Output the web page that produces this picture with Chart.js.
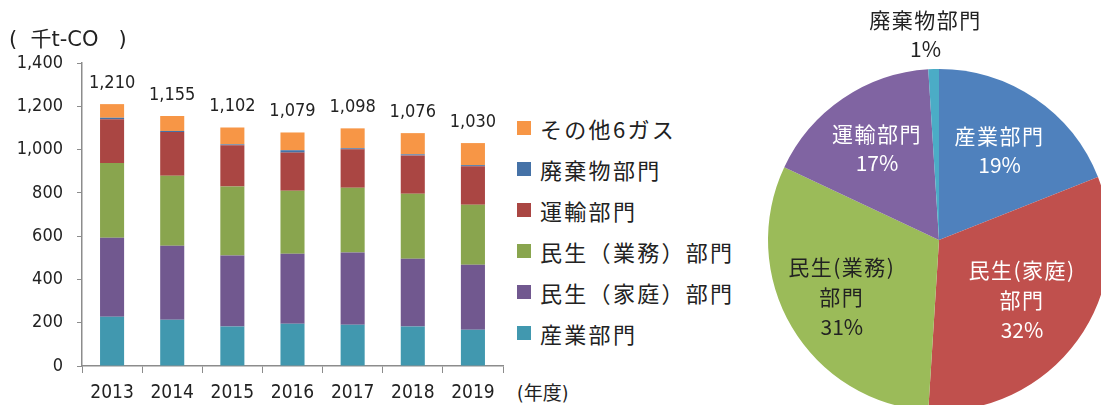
<!DOCTYPE html>
<html>
<head>
<meta charset="utf-8">
<script src="https://cdn.jsdelivr.net/npm/chart.js@4.4.1/dist/chart.umd.min.js"></script>
<style>
html, body { margin:0; padding:0; background:#fff; overflow:hidden; }
#wrap { position:relative; width:1101px; height:405px; overflow:hidden; font-family:"Noto Sans CJK JP", sans-serif; color:#222; }
#barCanvas { position:absolute; left:0; top:0; }
#pieCanvas { position:absolute; left:739px; top:0; }
.unit { position:absolute; left:9px; top:22px; font-size:21px; white-space:pre; font-family:"DejaVu Sans", sans-serif; }
.unit .k { font-family:"Noto Sans CJK JP", sans-serif; }
.nendo { position:absolute; left:517px; top:378px; font-size:19px; font-family:"DejaVu Sans Condensed", "DejaVu Sans", sans-serif; }
.nendo .k { font-family:"Noto Sans CJK JP", sans-serif; }
#legend .item { position:absolute; left:517px; height:24px; display:flex; align-items:center; white-space:nowrap; font-size:22px; letter-spacing:2.3px; }
#legend .sw { width:14px; height:14px; margin-right:9px; }
</style>
</head>
<body>
<div id="wrap">
  <canvas id="barCanvas" width="512" height="405"></canvas>
  <canvas id="pieCanvas" width="400" height="480"></canvas>
  <div class="unit">(  <span class="k">千</span>t-CO   )</div>
  <div class="nendo">(<span class="k">年度</span>)</div>
  <div id="legend"></div>
</div>
<script>
// 年度
const years = ['2013', '2014', '2015', '2016', '2017', '2018', '2019'];

// 部門別排出量（千t-CO2）
const sangyo = [228, 214, 182, 195, 191, 182, 168];
const katei  = [365, 342, 328, 324, 333, 314, 300];
const gyomu  = [345, 323, 319, 291, 300, 300, 277];
const unyu   = [202, 202, 191, 176, 177, 177, 178];
const haiki  = [7, 5, 4, 11, 5, 5, 5];
const sonota = [63, 69, 78, 82, 92, 98, 102];
const totals = [1210, 1155, 1102, 1079, 1098, 1076, 1030];

const yTicks = [0, 200, 400, 600, 800, 1000, 1200, 1400];

// 2019年度 構成比
const pieLabels = ['産業部門', '民生（家庭）部門', '民生（業務）部門', '運輸部門', '廃棄物部門'];
const pieShares = [19, 32, 31, 17, 1];
const pieLines  = [['産業部門'], ['民生(家庭)', '部門'], ['民生(業務)', '部門'], ['運輸部門'], ['廃棄物部門']];

const seriesDefs = [
  { label: '産業部門',         data: sangyo, color: '#4198AF' },
  { label: '民生（家庭）部門', data: katei,  color: '#71588F' },
  { label: '民生（業務）部門', data: gyomu,  color: '#89A54E' },
  { label: '運輸部門',         data: unyu,   color: '#AA4643' },
  { label: '廃棄物部門',       data: haiki,  color: '#4572A7' },
  { label: 'その他6ガス',      data: sonota, color: '#F79646' }
];

const numFamily = '"DejaVu Sans Condensed", "DejaVu Sans", sans-serif';
const fmt = v => Number(v).toLocaleString('en-US');

// 棒の上に合計値
const totalLabels = {
  id: 'totalLabels',
  afterDatasetsDraw(chart) {
    const { ctx, scales: { x, y } } = chart;
    ctx.save();
    ctx.font = '18px ' + numFamily;
    ctx.fillStyle = '#222';
    ctx.textAlign = 'center';
    ctx.textBaseline = 'middle';
    totals.forEach((t, i) => {
      ctx.fillText(fmt(t), x.getPixelForValue(i), y.getPixelForValue(t) - 21);
    });
    ctx.restore();
  }
};

new Chart(document.getElementById('barCanvas').getContext('2d'), {
  type: 'bar',
  data: {
    labels: years,
    datasets: seriesDefs.map(s => ({
      label: s.label,
      data: s.data,
      backgroundColor: s.color,
      borderWidth: 0,
      barPercentage: 0.4,
      categoryPercentage: 1
    }))
  },
  options: {
    responsive: false,
    animation: false,
    layout: { padding: { top: 63, right: 9, left: 0, bottom: 0 } },
    plugins: { legend: { display: false }, tooltip: { enabled: false } },
    scales: {
      x: {
        stacked: true,
        grid: { display: true, drawOnChartArea: false, offset: true, tickLength: 7, color: '#8c8c8c' },
        border: { color: '#8c8c8c', width: 1.5 },
        ticks: { color: '#222', font: { family: numFamily, size: 19 }, padding: 9, maxRotation: 0 },
        afterFit(s) { s.height = 39; }
      },
      y: {
        stacked: true,
        min: 0,
        max: 1400,
        afterBuildTicks(s) { s.ticks = yTicks.map(v => ({ value: v })); },
        grid: { display: true, drawOnChartArea: false, tickLength: 5, color: '#8c8c8c' },
        border: { color: '#8c8c8c', width: 1.5 },
        ticks: { color: '#222', font: { family: numFamily, size: 18 }, padding: 14, callback: v => fmt(v) },
        afterFit(s) { s.width = 82; }
      }
    }
  },
  plugins: [totalLabels]
});

// 凡例（上から逆順）
const legend = document.getElementById('legend');
const legendY = [128, 169, 210, 251, 292, 333];
seriesDefs.slice().reverse().forEach((s, i) => {
  const item = document.createElement('div');
  item.className = 'item';
  item.style.top = (legendY[i] - 12) + 'px';
  item.innerHTML = '<span class="sw" style="background:' + s.color + '"></span>' + s.label;
  legend.appendChild(item);
});

// 円グラフのラベル
const labelRadius = [0.63, 0.6, 0.66, 0.645, 1.2];
const labelDx     = [0, 0, 0, 0, -7];
const labelColor  = ['#fff', '#fff', '#222', '#fff', '#222'];
const pieText = {
  id: 'pieText',
  afterDatasetsDraw(chart) {
    const { ctx } = chart;
    const arcs = chart.getDatasetMeta(0).data;
    ctx.save();
    ctx.font = '21px "Noto Sans CJK JP", sans-serif';
    ctx.textAlign = 'center';
    ctx.textBaseline = 'middle';
    arcs.forEach((arc, i) => {
      const { x, y, startAngle, endAngle, outerRadius } = arc.getProps(['x', 'y', 'startAngle', 'endAngle', 'outerRadius'], true);
      const mid = (startAngle + endAngle) / 2;
      const r = outerRadius * labelRadius[i];
      const cx = x + Math.cos(mid) * r + labelDx[i];
      const cy = y + Math.sin(mid) * r;
      const lines = pieLines[i].concat([pieShares[i] + '%']);
      const lh = lines.length > 2 ? 30 : 29;
      const top = cy - (lines.length - 1) * lh / 2;
      ctx.fillStyle = labelColor[i];
      lines.forEach((t, k) => {
        ctx.letterSpacing = /%$/.test(t) ? '0px' : '1.5px';
        ctx.fillText(t, cx, top + k * lh);
      });
    });
    ctx.restore();
  }
};

new Chart(document.getElementById('pieCanvas').getContext('2d'), {
  type: 'pie',
  data: {
    labels: pieLabels,
    datasets: [{
      data: pieShares,
      backgroundColor: ['#4F81BD', '#C0504D', '#9BBB59', '#8064A2', '#4BACC6'],
      borderWidth: 0
    }]
  },
  options: {
    responsive: false,
    animation: false,
    layout: { padding: { left: 29, right: 29, top: 69, bottom: 69 } },
    plugins: { legend: { display: false }, tooltip: { enabled: false } }
  },
  plugins: [pieText]
});
</script>
</body>
</html>
